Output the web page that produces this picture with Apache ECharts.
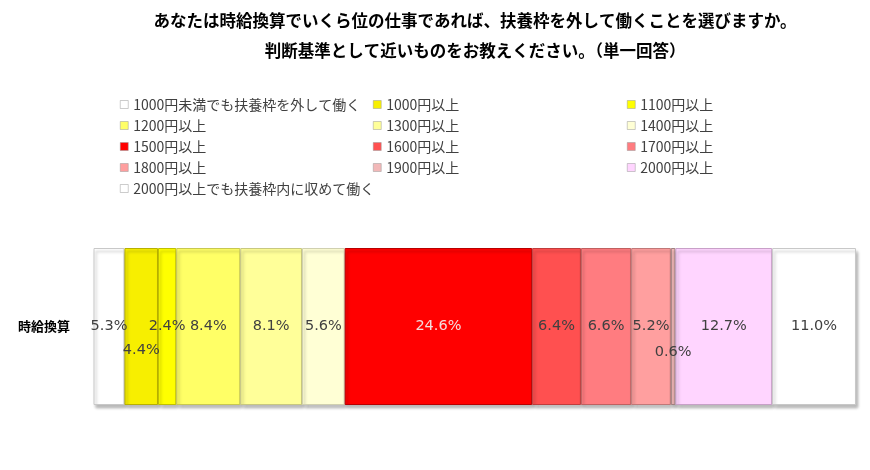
<!DOCTYPE html>
<html><head><meta charset="utf-8">
<script src="https://cdn.jsdelivr.net/npm/echarts@6/dist/echarts.min.js"></script>
<style>html,body{margin:0;padding:0;background:#fff}#c{width:870px;height:470px}</style>
</head><body><div id="c"></div>
<script>
const categories = ['時給換算'];
const seriesNames = ['1000円未満でも扶養枠を外して働く','1000円以上','1100円以上','1200円以上','1300円以上','1400円以上','1500円以上','1600円以上','1700円以上','1800円以上','1900円以上','2000円以上','2000円以上でも扶養枠内に収めて働く'];
const values = [5.3, 4.4, 2.4, 8.4, 8.1, 5.6, 24.6, 6.4, 6.6, 5.2, 0.6, 12.7, 11.0];
const colors = ['#FFFFFF','#F7EF00','#FFFF00','#FFFF66','#FFFF99','#FFFFD5','#FF0000','#FF5050','#FF7C80','#FF9F9F','#F2B8B8','#FFD5FF','#FFFFFF'];
const borders = ['#C8C8C8','#B8B000','#C0C000','#C8C850','#C8C880','#D0D0B0','#B80000','#C03C3C','#C06060','#C07878','#A08080','#C8A0C8','#C8C8C8'];
const labelColors = ['#404040','#404040','#404040','#404040','#404040','#404040','#F4DCDC','#404040','#404040','#404040','#404040','#404040','#404040'];
const labelOffsets = [0, 24, 0, 0, 0, 0, 0, 0, 0, 0, 26, 0, 0];

const total = values.reduce((a, b) => a + b, 0);

const series = seriesNames.map((name, i) => ({
  name: name,
  type: 'bar',
  stack: 'all',
  barWidth: '100%',
  clip: true,
  data: [values[i]],
  itemStyle: {
    color: colors[i],
    borderColor: borders[i],
    borderWidth: 1,
    shadowColor: 'rgba(0,0,0,0.28)',
    shadowBlur: 3,
    shadowOffsetX: 2,
    shadowOffsetY: 3
  },
  label: {
    show: true,
    position: 'inside',
    offset: [0, labelOffsets[i]],
    formatter: p => p.value.toFixed(1) + '%',
    color: labelColors[i],
    fontSize: 14.5,
    fontFamily: 'DejaVu Sans'
  },
  emphasis: { disabled: true }
}));

function legendCol(idxs, left) {
  return {
    orient: 'vertical',
    left: left,
    top: 92,
    itemWidth: 8,
    itemHeight: 8,
    itemGap: 6,
    icon: 'rect',
    selectedMode: false,
    data: idxs.map(i => ({ name: seriesNames[i], itemStyle: { color: colors[i], borderColor: '#999', borderWidth: 0.5 } })),
    textStyle: { fontSize: 14, color: '#404040', fontFamily: 'Noto Sans CJK JP', lineHeight: 15, padding: [0, 0, 0, 0] }
  };
}

const chart = echarts.init(document.getElementById('c'), null, { renderer: 'canvas' });
chart.setOption({
  animation: false,
  backgroundColor: '#fff',
  title: {
    text: 'あなたは時給換算でいくら位の仕事であれば、扶養枠を外して働くことを選びますか。\n判断基準として近いものをお教えください。（単一回答）',
    left: 470,
    textAlign: 'center',
    top: 1,
    textStyle: { fontSize: 16.5, fontWeight: 'bold', color: '#000', fontFamily: 'Noto Sans CJK JP', lineHeight: 30 }
  },
  legend: [
    legendCol([0, 3, 6, 9, 12], 115),
    legendCol([1, 4, 7, 10], 368),
    legendCol([2, 5, 8, 11], 622)
  ],
  grid: { left: 94, right: 14, top: 248, bottom: 65, containLabel: false },
  xAxis: {
    type: 'value',
    min: Math.round((total - 100) * 10) / 10,
    max: Math.round(total * 10) / 10,
    show: false
  },
  yAxis: {
    type: 'category',
    data: categories,
    axisLine: { show: false },
    axisTick: { show: false },
    axisLabel: { fontSize: 13, fontWeight: 'bold', color: '#000', fontFamily: 'Noto Sans CJK JP', margin: 24 }
  },
  series: series
});
</script></body></html>
